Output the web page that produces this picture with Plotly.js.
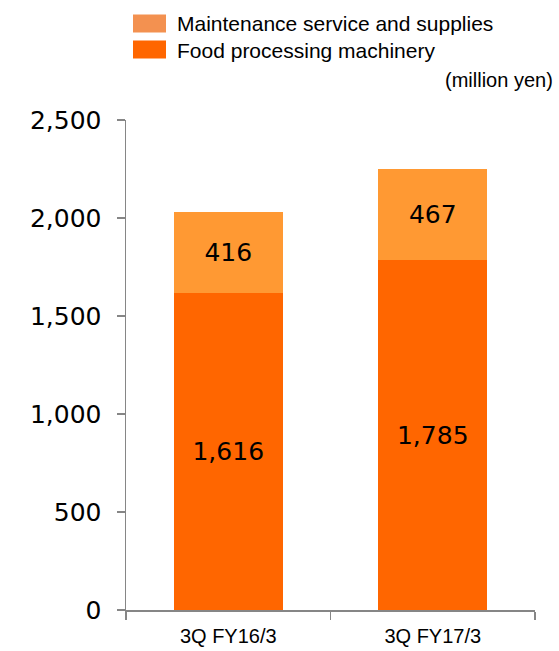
<!DOCTYPE html>
<html>
<head>
<meta charset="utf-8">
<script src="https://cdn.plot.ly/plotly-3.0.1.min.js"></script>
<style>
  html, body { margin: 0; padding: 0; background: #ffffff; }
  #chart { width: 559px; height: 651px; }
</style>
</head>
<body>
<div id="chart"></div>
<script>
// ---- data ----
const categories = ['3Q FY16/3', '3Q FY17/3'];
const foodMachinery = [1616, 1785];
const maintenance = [416, 467];
const seriesNames = ['Maintenance service and supplies', 'Food processing machinery'];
const unitLabel = '(million yen)';
const yTicks = [0, 500, 1000, 1500, 2000, 2500];

// ---- geometry (pixels) ----
const W = 559, H = 651;
const L = 126, R = 24, T = 119.5, B = 41;
const plotW = W - L - R, plotH = H - T - B;
const px = x => (x - L) / plotW;
const py = y => (H - B - y) / plotH;

const numFont = { family: 'DejaVu Sans, Verdana, sans-serif', size: 25, color: '#000000' };
const txtFont = { family: 'Liberation Sans, Arial, sans-serif', size: 20, color: '#000000' };
const legFont = { family: 'Liberation Sans, Arial, sans-serif', size: 21, color: '#000000' };

const traces = [
  {
    type: 'bar', name: seriesNames[1], x: categories, y: foodMachinery,
    marker: { color: '#FF6600' },
    text: foodMachinery.map(v => v.toLocaleString('en-US')),
    textposition: 'inside', insidetextanchor: 'middle', textangle: 0,
    textfont: numFont, constraintext: 'none', hoverinfo: 'skip', showlegend: false
  },
  {
    type: 'bar', name: seriesNames[0], x: categories, y: maintenance,
    marker: { color: '#FF9933' },
    text: maintenance.map(v => v.toLocaleString('en-US')),
    textposition: 'inside', insidetextanchor: 'middle', textangle: 0,
    textfont: numFont, constraintext: 'none', hoverinfo: 'skip', showlegend: false
  }
];

const layout = {
  width: W, height: H,
  margin: { l: L, r: R, t: T, b: B, pad: 0 },
  paper_bgcolor: '#ffffff', plot_bgcolor: '#ffffff',
  barmode: 'stack', bargap: 0.467,
  showlegend: false,
  font: txtFont,
  xaxis: {
    type: 'category', tickson: 'boundaries', ticks: 'outside', ticklen: 8,
    tickwidth: 1.5, tickcolor: '#868686',
    showline: true, linecolor: '#868686', linewidth: 1.5,
    showgrid: false, zeroline: false, fixedrange: true,
    tickfont: txtFont, ticklabelstandoff: 7
  },
  yaxis: {
    range: [0, 2500], tickvals: yTicks, tickformat: ',',
    ticks: 'outside', ticklen: 8, tickwidth: 1.5, tickcolor: '#868686',
    showline: true, linecolor: '#868686', linewidth: 1.5,
    showgrid: false, zeroline: false, fixedrange: true,
    tickfont: numFont, ticklabelstandoff: 10
  },
  shapes: [
    { type: 'rect', xref: 'paper', yref: 'paper', x0: px(133), x1: px(166), y0: py(32), y1: py(14),
      fillcolor: '#F39150', line: { width: 0 } },
    { type: 'rect', xref: 'paper', yref: 'paper', x0: px(133), x1: px(166), y0: py(58), y1: py(40),
      fillcolor: '#FF6600', line: { width: 0 } }
  ],
  annotations: [
    { xref: 'paper', yref: 'paper', x: px(175), y: py(23), xanchor: 'left', yanchor: 'middle',
      text: seriesNames[0], showarrow: false, font: legFont },
    { xref: 'paper', yref: 'paper', x: px(175), y: py(49.5), xanchor: 'left', yanchor: 'middle',
      text: seriesNames[1], showarrow: false, font: legFont },
    { xref: 'paper', yref: 'paper', x: px(555), y: py(79), xanchor: 'right', yanchor: 'middle',
      text: unitLabel, showarrow: false, font: txtFont }
  ]
};

Plotly.newPlot('chart', traces, layout, { displayModeBar: false, staticPlot: true });
</script>
</body>
</html>
